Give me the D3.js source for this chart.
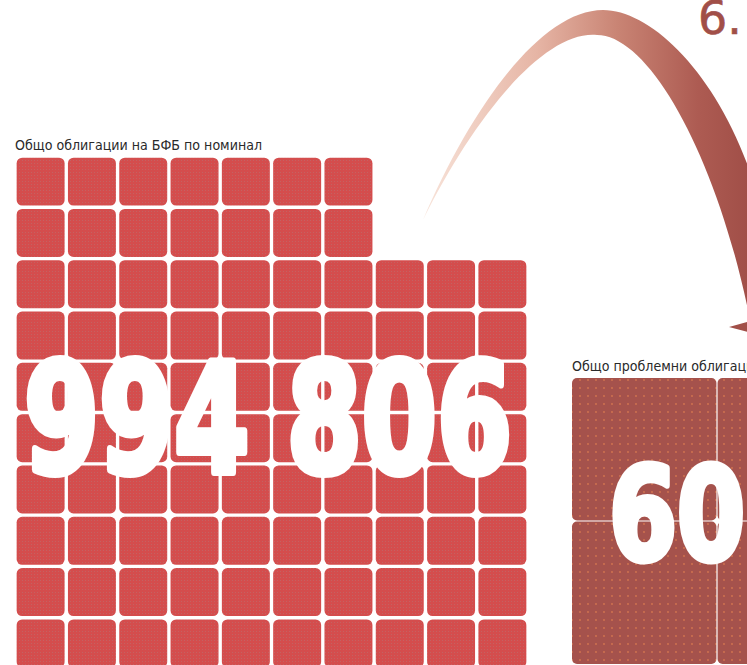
<!DOCTYPE html>
<html><head><meta charset="utf-8">
<script src="https://cdn.jsdelivr.net/npm/d3@7"></script>
<style>html,body{margin:0;padding:0;background:#fff;overflow:hidden}</style>
</head><body>
<script>
// ---- data ----
const totalLabel = "Общо облигации на БФБ по номинал";
const totalValue = "994 806";
const gridRowCounts = [7, 7, 10, 10, 10, 10, 10, 10, 10, 10];   // squares per row (left block)
const problemLabel = "Общо проблемни облигации";
const problemValue = "60";
const problemRowCounts = [2, 2];                                // squares per row (right block)
const shareLabel = "6.";

const W = 747, H = 665;
const svg = d3.select("body").append("svg").attr("width", W).attr("height", H);
const defs = svg.append("defs");

// textures
const pr = defs.append("pattern").attr("id","pRed").attr("patternUnits","userSpaceOnUse").attr("width",3).attr("height",3);
pr.append("rect").attr("width",3).attr("height",3).attr("fill","#d44d4d");
pr.append("rect").attr("x",1).attr("y",1).attr("width",1).attr("height",1).attr("fill","#c46262");
const pb = defs.append("pattern").attr("id","pBrown").attr("patternUnits","userSpaceOnUse").attr("width",8).attr("height",8);
pb.append("rect").attr("width",8).attr("height",8).attr("fill","#a5524c");
pb.append("circle").attr("cx",4).attr("cy",4).attr("r",0.9).attr("fill","#d4744f");

const grad = defs.append("linearGradient").attr("id","gArc").attr("gradientUnits","userSpaceOnUse")
  .attr("x1",423).attr("y1",0).attr("x2",747).attr("y2",0);
[[0,"#f8e4da"],[0.35,"#e6b5a5"],[0.6,"#c98474"],[0.85,"#ad5b52"],[1,"#a14f48"]]
  .forEach(([o,c]) => grad.append("stop").attr("offset",o).attr("stop-color",c));

const labelFont = "'DejaVu Sans Condensed','DejaVu Sans',sans-serif";
const numFont = "'DejaVu Sans','Liberation Sans',sans-serif";

// ---- left block ----
const maxCols = d3.max(gridRowCounts);
const xL = d3.scaleBand().domain(d3.range(maxCols)).range([15, 528]).paddingInner(0.065).paddingOuter(0.032);
const yL = d3.scaleBand().domain(d3.range(gridRowCounts.length)).range([156, 156 + 51.3 * gridRowCounts.length]).paddingInner(0.065).paddingOuter(0.032);
const cellsL = gridRowCounts.flatMap((n, r) => d3.range(n).map(c => ({r, c})));
svg.append("g").selectAll("rect").data(cellsL).join("rect")
  .attr("x", d => xL(d.c)).attr("y", d => yL(d.r))
  .attr("width", xL.bandwidth()).attr("height", yL.bandwidth())
  .attr("rx", 5.5).attr("fill", "url(#pRed)");

const lab1 = svg.append("text").attr("x", 15).attr("y", 150)
  .attr("font-family", labelFont)
  .attr("font-size", 14.5).attr("fill", "#2a2a2a").text(totalLabel);
const ratio = 247 / lab1.node().getComputedTextLength();
lab1.attr("textLength", 247).attr("lengthAdjust", "spacingAndGlyphs");

svg.append("text").attr("x", 24).attr("y", 472)
  .attr("font-family", numFont)
  .attr("font-weight", "bold").attr("font-size", 151).attr("fill", "#fff")
  .attr("stroke", "#fff").attr("stroke-width", 8).attr("stroke-linejoin", "round")
  .attr("textLength", 488).attr("lengthAdjust", "spacingAndGlyphs")
  .text(totalValue);

// ---- arc arrow ----
const p = d3.path();
p.moveTo(423, 220);
p.bezierCurveTo(470, 110, 540, 10, 603, 10);
p.bezierCurveTo(660, 10, 745, 100, 770, 250);
p.lineTo(752, 330);
p.bezierCurveTo(720, 160, 650, 35, 597, 35);
p.bezierCurveTo(545, 30, 475, 115, 423, 220);
p.closePath();
svg.append("path").attr("d", p.toString()).attr("fill", "url(#gArc)");
const ah = d3.path();
ah.moveTo(729, 327); ah.lineTo(775, 314); ah.lineTo(790, 343); ah.closePath();
svg.append("path").attr("d", ah.toString()).attr("fill", "#a14f48");

svg.append("text").attr("x", 698).attr("y", 34)
  .attr("font-family", numFont)
  .attr("font-size", 46).attr("fill", "#a14f48")
  .attr("stroke", "#a14f48").attr("stroke-width", 0.6)
  .text(shareLabel);

// ---- right block ----
const xR = d3.scaleBand().domain(d3.range(d3.max(problemRowCounts))).range([572, 572 + 145 * 2]).paddingInner(0.008);
const yR = d3.scaleBand().domain(d3.range(problemRowCounts.length)).range([378, 378 + 143 * 2]).paddingInner(0.008);
const cellsR = problemRowCounts.flatMap((n, r) => d3.range(n).map(c => ({r, c})));
svg.append("g").selectAll("rect").data(cellsR).join("rect")
  .attr("x", d => xR(d.c)).attr("y", d => yR(d.r))
  .attr("width", xR.bandwidth()).attr("height", yR.bandwidth())
  .attr("rx", 5).attr("fill", "url(#pBrown)");

const lab2 = svg.append("text").attr("x", 572).attr("y", 371)
  .attr("font-family", labelFont)
  .attr("font-size", 14.5).attr("fill", "#2a2a2a").text(problemLabel);
lab2.attr("textLength", lab2.node().getComputedTextLength() * ratio).attr("lengthAdjust", "spacingAndGlyphs");

svg.append("text").attr("x", 609).attr("y", 559)
  .attr("font-family", numFont)
  .attr("font-weight", "bold").attr("font-size", 129).attr("fill", "#fff")
  .attr("stroke", "#fff").attr("stroke-width", 7).attr("stroke-linejoin", "round")
  .attr("textLength", 136).attr("lengthAdjust", "spacingAndGlyphs")
  .text(problemValue);
</script>
</body></html>
